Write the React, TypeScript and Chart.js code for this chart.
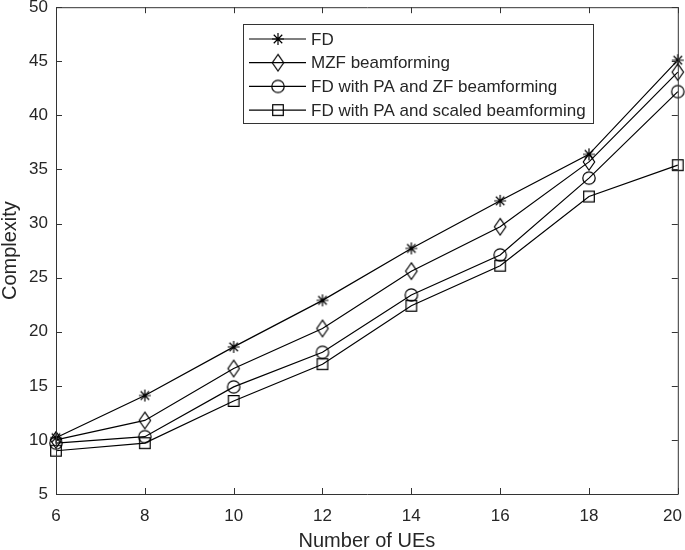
import React, { useEffect, useRef } from "react";
import { Chart, registerables } from "chart.js";

Chart.register(...registerables);

const ues = [6, 8, 10, 12, 14, 16, 18, 20];
const fd = [10.2, 14.1, 18.6, 22.9, 27.7, 32.1, 36.4, 45.1];
const mzf = [10.0, 11.8, 16.6, 20.3, 25.6, 29.7, 35.7, 44.0];
const fdPaZf = [9.7, 10.3, 14.9, 18.1, 23.4, 27.1, 34.2, 42.2];
const fdPaScaled = [9.0, 9.7, 13.6, 17.0, 22.4, 26.1, 32.5, 35.4];
const seriesNames = [
  "FD",
  "MZF beamforming",
  "FD with PA and ZF beamforming",
  "FD with PA and scaled beamforming",
];
const xTicks = [6, 8, 10, 12, 14, 16, 18, 20];
const yTicks = [5, 10, 15, 20, 25, 30, 35, 40, 45, 50];

const FONT = "'Liberation Sans', Arial, Helvetica, sans-serif";
const TEXT = "#262626";
const AXIS = "#333333";

function makeMarker(kind: string): HTMLCanvasElement {
  const c = document.createElement("canvas");
  c.width = 22;
  c.height = 22;
  const g = c.getContext("2d")!;
  g.strokeStyle = "#000";
  g.lineWidth = 1.2;
  const cx = 11, cy = 11;
  g.beginPath();
  if (kind === "star") {
    const r = 6;
    for (let k = 0; k < 4; k++) {
      const a = (k * Math.PI) / 4;
      g.moveTo(cx - r * Math.cos(a), cy - r * Math.sin(a));
      g.lineTo(cx + r * Math.cos(a), cy + r * Math.sin(a));
    }
  } else if (kind === "diamond") {
    g.moveTo(cx, cy - 8.3);
    g.lineTo(cx + 5.7, cy);
    g.lineTo(cx, cy + 8.3);
    g.lineTo(cx - 5.7, cy);
    g.closePath();
  } else if (kind === "circle") {
    g.arc(cx, cy, 6.2, 0, Math.PI * 2);
  } else {
    g.rect(cx - 5.3, cy - 5.3, 10.6, 10.6);
  }
  g.stroke();
  return c;
}

export default function App() {
  const ref = useRef<HTMLCanvasElement>(null);

  useEffect(() => {
    document.body.style.margin = "0";
    const markers = [makeMarker("star"), makeMarker("diamond"), makeMarker("circle"), makeMarker("square")];
    const series = [fd, mzf, fdPaZf, fdPaScaled];

    const frame = {
      id: "frame",
      afterDraw(chart: any) {
        const ctx = chart.ctx;
        const { left, right, top, bottom } = chart.chartArea;
        const xs = chart.scales.x;
        const ys = chart.scales.y;
        ctx.save();
        ctx.strokeStyle = AXIS;
        ctx.lineWidth = 1;
        ctx.beginPath();
        ctx.moveTo(left + 0.5, top + 0.5);
        ctx.lineTo(right + 0.5, top + 0.5);
        ctx.lineTo(right + 0.5, bottom + 0.5);
        ctx.lineTo(left + 0.5, bottom + 0.5);
        ctx.closePath();
        const tl = 6;
        xTicks.forEach((v) => {
          const px = Math.round(xs.getPixelForValue(v)) + 0.5;
          ctx.moveTo(px, bottom);
          ctx.lineTo(px, bottom - tl);
          ctx.moveTo(px, top);
          ctx.lineTo(px, top + tl);
        });
        yTicks.forEach((v) => {
          const py = Math.round(ys.getPixelForValue(v)) + 0.5;
          ctx.moveTo(left, py);
          ctx.lineTo(left + tl, py);
          ctx.moveTo(right, py);
          ctx.lineTo(right - tl, py);
        });
        ctx.stroke();

        // x tick labels (kept inside the canvas at the right edge)
        ctx.font = `17px ${FONT}`;
        ctx.fillStyle = TEXT;
        ctx.textBaseline = "middle";
        ctx.textAlign = "left";
        const W = chart.width;
        xTicks.forEach((v) => {
          const px = xs.getPixelForValue(v);
          const label = String(v);
          const w = ctx.measureText(label).width;
          let x0 = px - w / 2;
          if (x0 + w > W - 3) x0 = W - 3 - w;
          ctx.fillText(label, x0, bottom + 22);
        });

        // legend
        const bx = 243.5, by = 24.5, bw = 350, bh = 99;
        ctx.fillStyle = "#fff";
        ctx.fillRect(bx, by, bw, bh);
        ctx.strokeStyle = AXIS;
        ctx.lineWidth = 1;
        ctx.strokeRect(bx, by, bw, bh);
        seriesNames.forEach((name, i) => {
          const yy = 39 + i * 23.7;
          ctx.strokeStyle = "#000";
          ctx.lineWidth = 1.2;
          ctx.beginPath();
          ctx.moveTo(249, yy);
          ctx.lineTo(306, yy);
          ctx.stroke();
          ctx.drawImage(markers[i], 278 - 11, yy - 11);
          ctx.fillStyle = TEXT;
          ctx.fillText(name, 311, yy + 1);
        });
        ctx.restore();
      },
    };

    const chart = new Chart(ref.current!, {
      type: "line",
      data: {
        datasets: series.map((s, i) => ({
          label: seriesNames[i],
          data: s.map((y, j) => ({ x: ues[j], y })),
          borderColor: "#000",
          backgroundColor: "transparent",
          borderWidth: 1.2,
          pointStyle: markers[i] as any,
          pointRadius: 6,
          clip: false as any,
          tension: 0,
        })),
      },
      options: {
        animation: false,
        responsive: false,
        events: [],
        layout: { padding: { left: 0, right: 7, top: 6, bottom: 0 } },
        plugins: { legend: { display: false }, tooltip: { enabled: false } },
        scales: {
          x: {
            type: "linear",
            min: 6,
            max: 20,
            afterFit: (s: any) => { s.height = 56; s.paddingLeft = 0; s.paddingRight = 0; },
            afterBuildTicks: (s: any) => { s.ticks = xTicks.map((v) => ({ value: v })); },
            grid: { display: false, drawTicks: false },
            border: { display: false },
            ticks: { display: false },
            title: {
              display: true,
              text: "Number of UEs",
              font: { family: FONT, size: 20, lineHeight: 1 },
              color: TEXT,
              padding: { top: 0, bottom: -1 },
            },
          },
          y: {
            type: "linear",
            min: 5,
            max: 50,
            afterFit: (s: any) => { s.width = 56; s.paddingTop = 0; s.paddingBottom = 0; },
            afterBuildTicks: (s: any) => { s.ticks = yTicks.map((v) => ({ value: v })); },
            grid: { display: false, drawTicks: false },
            border: { display: false },
            ticks: { font: { family: FONT, size: 17 }, color: TEXT, padding: 8 },
            title: {
              display: true,
              text: "Complexity",
              font: { family: FONT, size: 20, lineHeight: 1 },
              color: TEXT,
              padding: { top: 0, bottom: 0 },
            },
          },
        },
      },
      plugins: [frame],
    });
    return () => chart.destroy();
  }, []);

  return (
    <div style={{ width: 685, height: 550 }}>
      <canvas ref={ref} width={685} height={550} style={{ display: "block" }} />
    </div>
  );
}
